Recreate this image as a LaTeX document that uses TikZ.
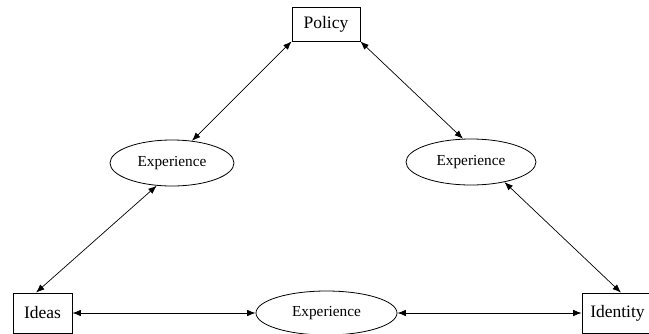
\documentclass[tikz,border=0pt]{standalone}
\usepackage{fontspec}
\setmainfont{Liberation Serif}
\usetikzlibrary{shapes.geometric,arrows.meta}
\begin{document}
\begin{tikzpicture}[x=1pt,y=-1pt,
  boxnode/.style={draw,line width=0.8pt,inner sep=0pt,font=\fontsize{17.5}{20}\selectfont},
  expnode/.style={draw,ellipse,line width=0.8pt,inner sep=0pt,font=\fontsize{15.3}{18}\selectfont},
  link/.style={line width=0.7pt,{Latex[length=8.5pt,width=6.5pt]}-{Latex[length=8.5pt,width=6.5pt]}}]
\useasboundingbox (0,0) rectangle (649,333);
\clip (0,0) rectangle (649,333);
\node[boxnode,minimum width=68pt,minimum height=34pt] (pol) at (326,24) {Policy};
\node[boxnode,minimum width=59pt,minimum height=40pt] (ide) at (42.5,313) {Ideas};
\node[boxnode,minimum width=70pt,minimum height=40pt] (idt) at (617,313) {\hspace*{1pt}Identity};
\node[expnode,minimum width=124pt,minimum height=46pt] (le) at (172,163) {Experience};
\node[expnode,minimum width=130pt,minimum height=46pt] (re) at (471,162) {Experience};
\node[expnode,minimum width=141pt,minimum height=44pt] (be) at (326.5,313) {Experience};
\draw[link] (pol.south west) -- (le.48);
\draw[link] (pol.south east) -- (re.109);
\draw[link] (le.236) -- ([xshift=-6.5pt]ide.north);
\draw[link] (re.329) -- ([xshift=4pt]idt.north);
\draw[link] (ide.east) -- (be.west);
\draw[link] (be.east) -- (idt.west);
\end{tikzpicture}
\end{document}
